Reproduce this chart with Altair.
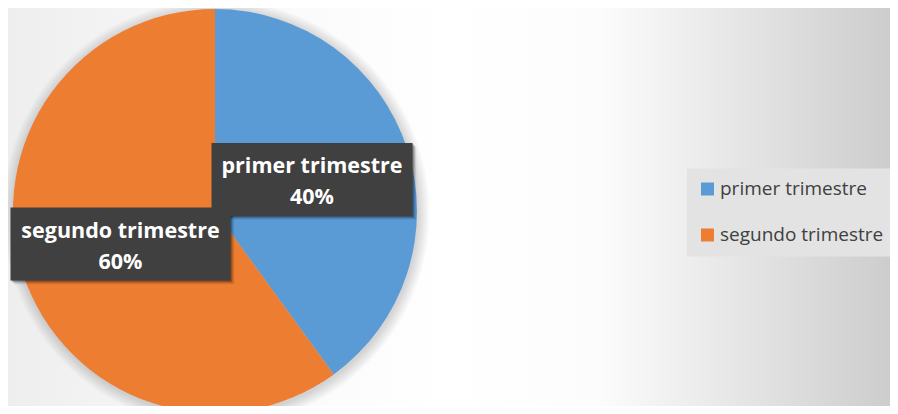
import math
import altair as alt
import pandas as pd

# ---- data ----
categories = ["primer trimestre", "segundo trimestre"]
values = [40, 60]
pct_labels = ["40%", "60%"]

# ---- style ----
colors = ["#5B9BD5", "#ED7D31"]
W, H = 882, 398
CX, CY, R = 207, 203, 202
label_radius_frac = 0.505
label_nudge = {"primer trimestre": (0, 0), "segundo trimestre": (2.5, 1.5)}
box_w = {"primer trimestre": 201, "segundo trimestre": 220}
box_h = 73
FONT = "Open Sans"

df = pd.DataFrame({"cat": categories, "value": values, "pct": pct_labels,
                   "idx": list(range(len(categories)))})

# label anchors derived from slice mid-angles
tot = sum(values)
cum = 0
xs, ys, x0s, x1s, y0s, y1s = [], [], [], [], [], []
for c, v in zip(categories, values):
    mid = (cum + v / 2) / tot * 2 * math.pi
    cum += v
    cx = CX + label_radius_frac * R * math.sin(mid) + label_nudge[c][0]
    cy = CY - label_radius_frac * R * math.cos(mid) + label_nudge[c][1]
    xs.append(cx); ys.append(cy)
    x0s.append(cx - box_w[c] / 2); x1s.append(cx + box_w[c] / 2)
    y0s.append(cy - box_h / 2); y1s.append(cy + box_h / 2)
df["lx"], df["ly"] = xs, ys
df["bx0"], df["bx1"], df["by0"], df["by1"] = x0s, x1s, y0s, y1s
for k in (1, 2, 3, 4):
    df[f"sx0_{k}"] = df["bx0"] + k
    df[f"sx1_{k}"] = df["bx1"] + k
    df[f"sy0_{k}"] = df["by0"] + k
    df[f"sy1_{k}"] = df["by1"] + k

one = pd.DataFrame({"a": [0]})

bg = alt.Chart(one).mark_rect(fill={
    "gradient": "linear", "x1": 0, "y1": 0, "x2": 1, "y2": 0,
    "stops": [
        {"offset": 0.0, "color": "#eeeeee"},
        {"offset": 0.22, "color": "#f8f8f8"},
        {"offset": 0.5, "color": "#ffffff"},
        {"offset": 0.67, "color": "#fcfcfc"},
        {"offset": 0.84, "color": "#e4e4e4"},
        {"offset": 1.0, "color": "#cdcdcd"},
    ]}).encode(x=alt.value(0), x2=alt.value(W), y=alt.value(0), y2=alt.value(H))

SH_R = 214
pie_shadow = alt.Chart(one).mark_arc(outerRadius=SH_R, fill={
    "gradient": "radial", "x1": 0.5, "y1": 0.5, "r1": 0, "x2": 0.5, "y2": 0.5, "r2": 0.5,
    "stops": [
        {"offset": 0.0, "color": "rgba(0,0,0,0.25)"},
        {"offset": R / SH_R, "color": "rgba(0,0,0,0.16)"},
        {"offset": 1.0, "color": "rgba(0,0,0,0)"},
    ]}).encode(x=alt.value(CX + 1), y=alt.value(CY + 2),
              theta=alt.value(0), theta2=alt.value(2 * math.pi))

pie = alt.Chart(df).mark_arc(outerRadius=R).encode(
    x=alt.value(CX), y=alt.value(CY),
    theta=alt.Theta("value:Q", stack=True),
    order=alt.Order("idx:Q"),
    color=alt.Color("cat:N", scale=alt.Scale(domain=categories, range=colors),
                    legend=alt.Legend(
                        title=None, orient="none", legendX=679, legendY=160.5,
                        fillColor="#e3e3e3", padding=11,
                        symbolType="square", symbolSize=169, symbolStrokeWidth=0,
                        labelFont=FONT, labelFontSize=19, labelColor="#404040",
                        labelOffset=3, rowPadding=26, labelLimit=300)),
)

shadows = []
for k, op in ((1, 0.22), (2, 0.16), (3, 0.1), (4, 0.05)):
    shadows.append(alt.Chart(df).mark_rect(color="#000000", opacity=op).encode(
        x=alt.X(f"sx0_{k}:Q", scale=None), x2=f"sx1_{k}:Q",
        y=alt.Y(f"sy0_{k}:Q", scale=None), y2=f"sy1_{k}:Q"))

boxes = alt.Chart(df).mark_rect(color="#404040").encode(
    x=alt.X("bx0:Q", scale=None), x2="bx1:Q",
    y=alt.Y("by0:Q", scale=None), y2="by1:Q")

t1 = alt.Chart(df).mark_text(font=FONT, fontWeight="bold", fontSize=21.5, color="white",
                             baseline="alphabetic", align="center", dy=-6.5).encode(
    x=alt.X("lx:Q", scale=None), y=alt.Y("ly:Q", scale=None), text="cat:N")
t2 = alt.Chart(df).mark_text(font=FONT, fontWeight="bold", fontSize=21.5, color="white",
                             baseline="alphabetic", align="center", dy=24.5).encode(
    x=alt.X("lx:Q", scale=None), y=alt.Y("ly:Q", scale=None), text="pct:N")

chart = alt.layer(bg, pie_shadow, pie, *shadows, boxes, t1, t2).properties(
    width=W, height=H, padding=0, autosize=alt.AutoSizeParams(type="none")
).configure_view(stroke=None).configure(background="white")

chart.save("out.html", embed_options={"renderer": "svg", "actions": False})
